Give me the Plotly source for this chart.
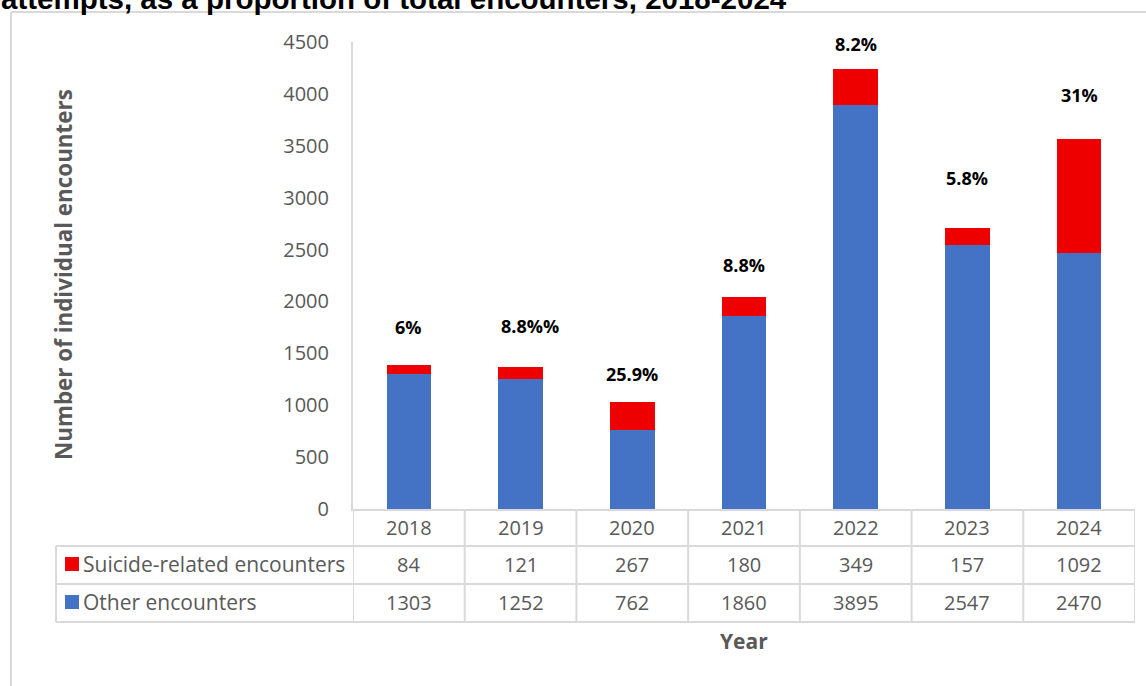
import plotly.graph_objects as go

years = ["2018", "2019", "2020", "2021", "2022", "2023", "2024"]
suicide = [84, 121, 267, 180, 349, 157, 1092]
other = [1303, 1252, 762, 1860, 3895, 2547, 2470]
pct_labels = ["6%", "8.8%%", "25.9%", "8.8%", "8.2%", "5.8%", "31%"]
label_shift = [38, 41, 28, 32, 25, 50, 44]  # px above bar top (style)
label_xshift = [0, 9, 0, 0, 0, 0, 0]  # px (style)

title_text = "attempts, as a proportion of total encounters, 2018-2024"
series_names = ["Suicide-related encounters", "Other encounters"]
BLUE = "#4472C4"
RED = "#EE0000"
GRAY = "#595959"
LINE = "#D9D9D9"
FONT = "Open Sans"

W, H = 1146, 686
PL, PR, PT, PB = 353, 1135, 42, 509


def px(x):
    return (x - PL) / (PR - PL)


def py(y):
    return (PB - y) / (PB - PT)


idx = list(range(len(years)))

fig = go.Figure()
fig.add_trace(go.Bar(x=idx, y=other, name=series_names[1], marker_color=BLUE,
                     marker_line_width=0, width=0.4))
fig.add_trace(go.Bar(x=idx, y=suicide, name=series_names[0], marker_color=RED,
                     marker_line_width=0, width=0.4))

shapes = []
annotations = []

# outer chart border (top & left visible)
shapes.append(dict(type="line", xref="paper", yref="paper", x0=px(11), x1=px(W + 5),
                   y0=py(12), y1=py(12), line=dict(color=LINE, width=2)))
shapes.append(dict(type="line", xref="paper", yref="paper", x0=px(11), x1=px(11),
                   y0=py(12), y1=py(H + 5), line=dict(color=LINE, width=2)))

# data table grid
for yl in [546, 584, 622]:
    shapes.append(dict(type="line", xref="paper", yref="paper", x0=px(56), x1=px(PR),
                       y0=py(yl), y1=py(yl), line=dict(color=LINE, width=2)))
n = len(years)
for k in range(n + 1):
    shapes.append(dict(type="line", xref="x", yref="paper", x0=k - 0.5, x1=k - 0.5,
                       y0=py(PB), y1=py(622), line=dict(color=LINE, width=2)))
shapes.append(dict(type="line", xref="paper", yref="paper", x0=px(56), x1=px(56),
                   y0=py(546), y1=py(622), line=dict(color=LINE, width=2)))

# legend swatches
for yc, col in [(564, RED), (602, BLUE)]:
    shapes.append(dict(type="rect", xref="paper", yref="paper", x0=px(65), x1=px(79),
                       y0=py(yc - 7), y1=py(yc + 7), fillcolor=col, line=dict(width=0)))
for yc, name in [(564, series_names[0]), (602, series_names[1])]:
    annotations.append(dict(text=name, xref="paper", yref="paper", x=px(81), y=py(yc),
                            xanchor="left", yanchor="middle", showarrow=False,
                            font=dict(family=FONT, size=21, color=GRAY)))

for i, yr in enumerate(years):
    for yc, txt in [(527, yr), (564, str(suicide[i])), (602, str(other[i]))]:
        annotations.append(dict(text=txt, xref="x", yref="paper", x=i, y=py(yc),
                                xanchor="center", yanchor="middle", showarrow=False,
                                font=dict(family=FONT, size=20, color=GRAY)))
    annotations.append(dict(text="<b>%s</b>" % pct_labels[i], xref="x", yref="y", x=i,
                            y=suicide[i] + other[i], yshift=label_shift[i],
                            xshift=label_xshift[i],
                            xanchor="center", yanchor="middle", showarrow=False,
                            font=dict(family=FONT, size=18, color="black")))

# axis titles
annotations.append(dict(text="<b>Number of individual encounters</b>", xref="paper", yref="paper",
                        x=px(63), y=py(275), textangle=-90, xanchor="center", yanchor="middle",
                        showarrow=False, font=dict(family=FONT, size=22.4, color=GRAY)))
annotations.append(dict(text="<b>Year</b>", xref="paper", yref="paper", x=px(744), y=py(641),
                        xanchor="center", yanchor="middle", showarrow=False,
                        font=dict(family=FONT, size=21, color=GRAY)))
# title (cut off at top)
annotations.append(dict(text="<b>%s</b>" % title_text, xref="paper", yref="paper", x=px(-1),
                        y=py(-1), xanchor="left", yanchor="middle", showarrow=False,
                        font=dict(family="Liberation Sans", size=29.5, color="black")))

fig.update_layout(
    width=W, height=H, barmode="stack", showlegend=False,
    margin=dict(l=PL, r=W - PR, t=PT, b=H - PB, autoexpand=False),
    plot_bgcolor="white", paper_bgcolor="white",
    xaxis=dict(showticklabels=False, showline=True, linecolor=LINE, linewidth=2,
               ticks="", showgrid=False, range=[-0.5, n - 0.5]),
    yaxis=dict(range=[0, 4500], dtick=500, showline=True, linecolor=LINE, linewidth=2,
               showgrid=False, ticks="", ticklabelstandoff=18, zeroline=False,
               tickfont=dict(family=FONT, size=20, color=GRAY)),
    shapes=shapes, annotations=annotations,
)
fig.write_html("out.html")
